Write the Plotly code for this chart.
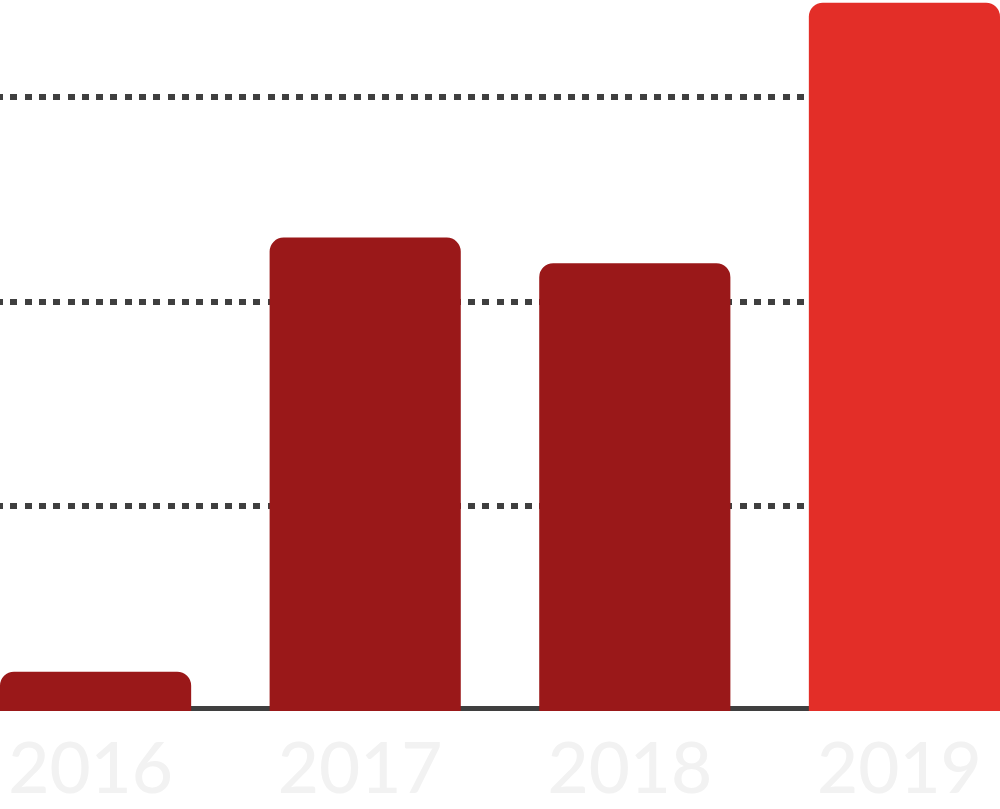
import plotly.graph_objects as go

years = ["2016", "2017", "2018", "2019"]
values = [0.192, 2.313, 2.188, 3.461]
bar_colors = ["#9a1819", "#9a1819", "#9a1819", "#e32e28"]
grid_vals = [1, 2, 3]

fig = go.Figure()
fig.add_trace(go.Bar(
    x=list(range(len(years))),
    y=values,
    marker=dict(color=bar_colors, line=dict(width=0)),
    width=0.709,
    hoverinfo="skip",
))

fig.add_shape(type="line", xref="paper", yref="y", x0=0, x1=0.993,
              y0=0.0098, y1=0.0098, line=dict(color="#3f3f3f", width=6),
              layer="below")

fig.update_layout(
    width=1000, height=809,
    margin=dict(l=0, r=0, t=0, b=98),
    paper_bgcolor="white", plot_bgcolor="white",
    showlegend=False,
    barcornerradius=14,
    xaxis=dict(
        range=[-0.3545, 3.3545],
        tickmode="array",
        tickvals=list(range(len(years))),
        ticktext=years,
        tickfont=dict(family="Lato", size=71, color="#f2f2f2", weight=500),
        showgrid=False, zeroline=False, showline=False, ticks="",
        ticklabelstandoff=10,
        ticklabelshift=-5,
    ),
    yaxis=dict(
        range=[0, 3.474],
        tickmode="array",
        tickvals=grid_vals,
        showticklabels=False,
        showgrid=True, gridcolor="#3f3f3f", gridwidth=6,
        griddash="3px,7.3px,4px,0px",
        zeroline=False, showline=False, ticks="",
    ),
)

fig.write_html(
    "out.html",
    config={"displayModeBar": False},
    post_script="document.body.style.margin='0';document.body.style.padding='0';",
)
